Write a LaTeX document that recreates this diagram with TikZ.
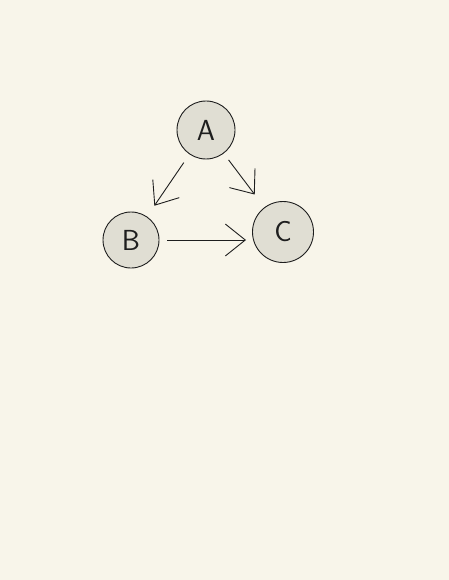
\documentclass[tikz,border=0pt]{standalone}
\usetikzlibrary{arrows.meta}
\definecolor{bg}{RGB}{248,245,234}
\definecolor{nodefill}{RGB}{224,222,211}
\definecolor{ink}{RGB}{30,30,30}
\tikzset{
  circ/.style={circle, draw=ink, fill=nodefill, line width=0.9pt, inner sep=0pt, text=ink, font=\sffamily\fontsize{29}{29}\selectfont},
  conn/.style={draw=ink, line width=0.9pt, -{Straight Barb[length=20pt, width=32pt, line width=0.9pt]}}
}
\begin{document}
\begin{tikzpicture}[x=1pt, y=-1pt]
  \fill[bg] (0,0) rectangle (449,580);
  \useasboundingbox (0,0) rectangle (449,580);
  \node[circ, minimum size=58pt] (A) at (206,130) {A};
  \node[circ, minimum size=56pt] (B) at (131,240) {B};
  \node[circ, minimum size=61pt] (C) at (283,232) {C};
  \draw[conn, shorten <=10pt, shorten >=13pt] (A) -- (B);
  \draw[conn, shorten <=8pt, shorten >=16pt] (A) -- (C);
  \draw[conn, shorten <=8pt, shorten >=6pt] (B.east) -- (B.east -| C.west);
\end{tikzpicture}
\end{document}
